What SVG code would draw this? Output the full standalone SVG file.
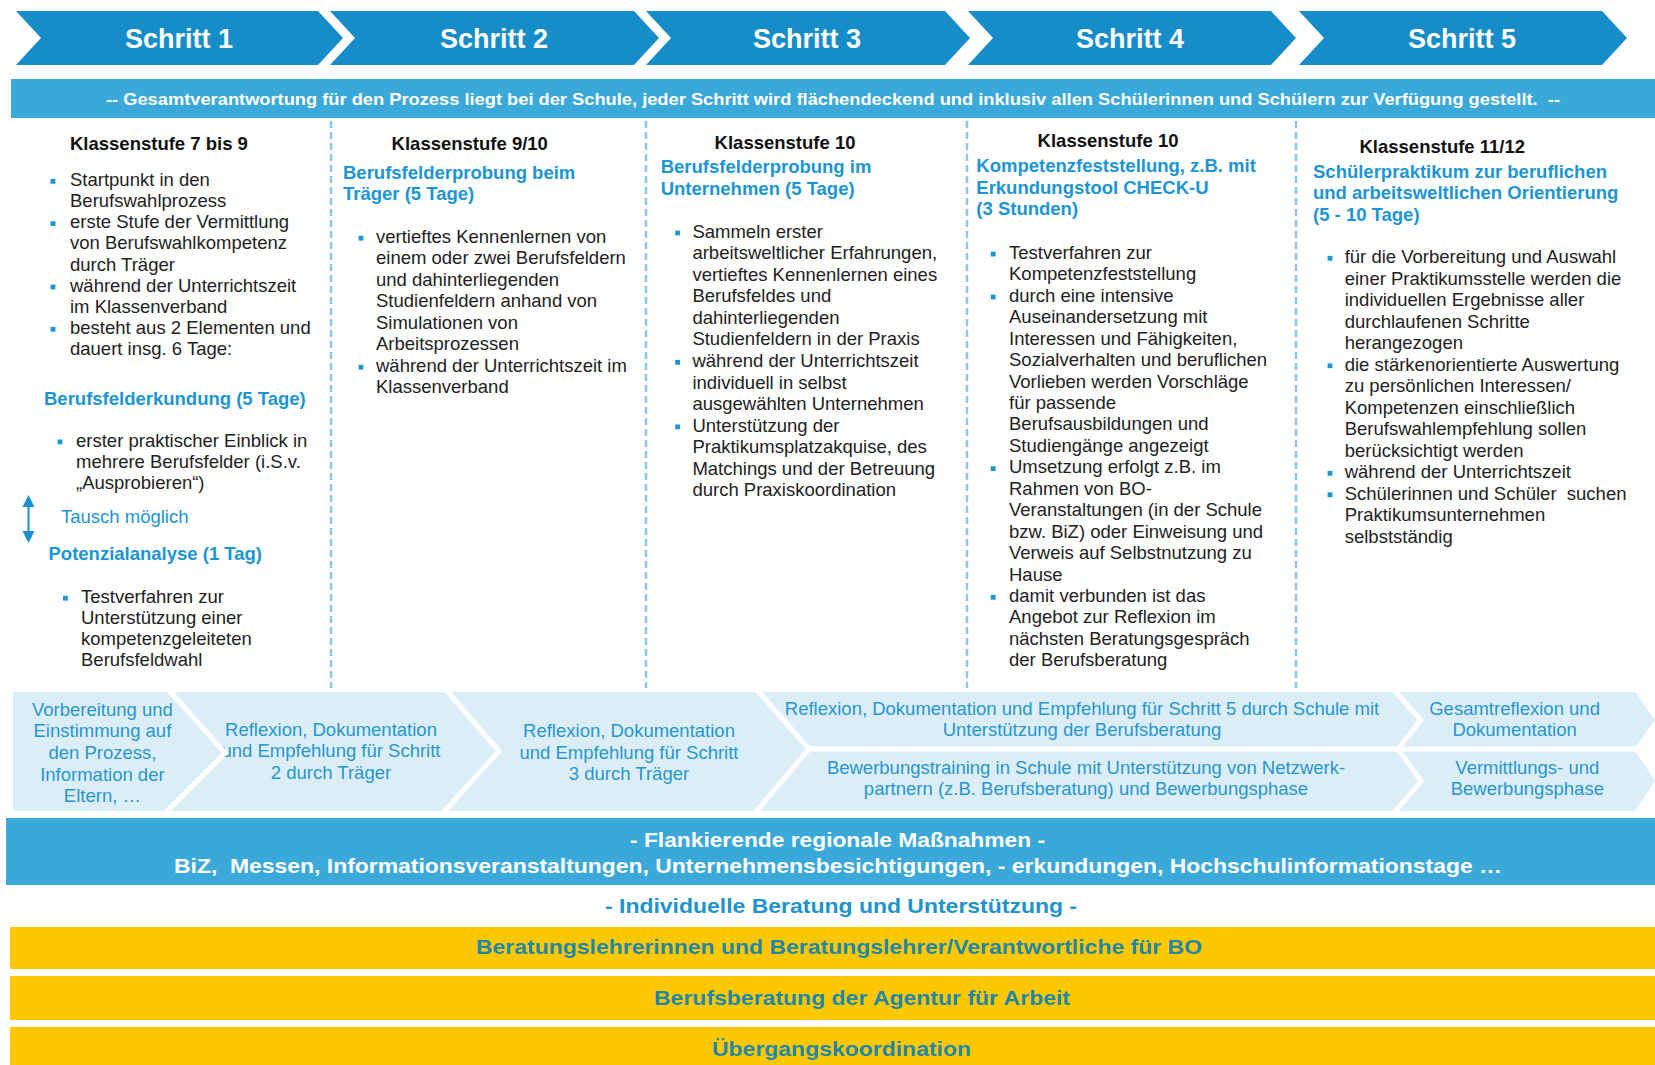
<svg xmlns="http://www.w3.org/2000/svg" xmlns:xlink="http://www.w3.org/1999/xlink" width="1655" height="1065" viewBox="0 0 1655 1065">
<style>
text{font-family:"Liberation Sans",Arial,Helvetica,sans-serif}
.pre{white-space:pre}
.b{font-size:18.5px;fill:#222}
.h{font-size:18.5px;font-weight:bold;fill:#111}
.hb{font-size:18.5px;font-weight:bold;fill:#1b95d3}
.tb{font-size:18.5px;fill:#1b95d3}
.m{font-size:18.5px;fill:#2796cf;text-anchor:middle}
.st{font-size:27px;font-weight:bold;fill:#fff;text-anchor:middle}
.chev{fill:#168dc8}
.band{fill:#3aa9d9}
.yel{fill:#fec800}
.wt{font-weight:bold;fill:#fff}
.yt{font-size:21px;font-weight:bold;fill:#1f87a8}
.div{stroke:#8cc8e6;stroke-width:2.5;stroke-dasharray:7 4;fill:none}
.sep{stroke:#fff;stroke-width:5;fill:none;stroke-linejoin:miter}
</style>
<defs>
<rect id="bu" width="4.8" height="4.8" fill="#1b95d3"/>
</defs>
<rect width="1655" height="1065" fill="#fff"/>

<g id="step1"><polygon class="chev" points="16,11 318,11 343,38 318,65 16,65 41,38"/><text class="st" x="179" y="47.5">Schritt 1</text></g>
<g id="step2"><polygon class="chev" points="330,11 634,11 659,38 634,65 330,65 355,38"/><text class="st" x="494" y="47.5">Schritt 2</text></g>
<g id="step3"><polygon class="chev" points="646,11 945,11 970,38 945,65 646,65 671,38"/><text class="st" x="807" y="47.5">Schritt 3</text></g>
<g id="step4"><polygon class="chev" points="968,11 1271,11 1296,38 1271,65 968,65 993,38"/><text class="st" x="1130" y="47.5">Schritt 4</text></g>
<g id="step5"><polygon class="chev" points="1299,11 1602,11 1627,38 1602,65 1299,65 1324,38"/><text class="st" x="1462" y="47.5">Schritt 5</text></g>

<g id="band-top"><rect class="band" x="11" y="79" width="1644" height="39"/>
<text class="wt pre" x="106" y="104.5" font-size="17" textLength="1454" lengthAdjust="spacingAndGlyphs">-- Gesamtverantwortung für den Prozess liegt bei der Schule, jeder Schritt wird flächendeckend und inklusiv allen Schülerinnen und Schülern zur Verfügung gestellt.  --</text></g>

<g id="dividers">
<line class="div" x1="331" y1="121" x2="331" y2="688"/>
<line class="div" x1="646" y1="121" x2="646" y2="688"/>
<line class="div" x1="967" y1="121" x2="967" y2="688"/>
<line class="div" x1="1296" y1="121" x2="1296" y2="688"/>
</g>

<g id="col1" transform="translate(0,1.5)">
<text class="h" x="70" y="148.5">Klassenstufe 7 bis 9</text>
<use xlink:href="#bu" x="50.6" y="177.4"/><use xlink:href="#bu" x="50.6" y="219.7"/><use xlink:href="#bu" x="50.6" y="283.1"/><use xlink:href="#bu" x="50.6" y="325.4"/>
<text class="b" x="70" y="184.5"><tspan x="70">Startpunkt in den</tspan><tspan x="70" dy="21.15">Berufswahlprozess</tspan><tspan x="70" dy="21.15">erste Stufe der Vermittlung</tspan><tspan x="70" dy="21.15">von Berufswahlkompetenz</tspan><tspan x="70" dy="21.15">durch Träger</tspan><tspan x="70" dy="21.15">während der Unterrichtszeit</tspan><tspan x="70" dy="21.15">im Klassenverband</tspan><tspan x="70" dy="21.15">besteht aus 2 Elementen und</tspan><tspan x="70" dy="21.15">dauert insg. 6 Tage:</tspan></text>
<text class="hb" x="44" y="403">Berufsfelderkundung (5 Tage)</text>
<use xlink:href="#bu" x="57.6" y="438"/>
<text class="b" x="76" y="445.1"><tspan x="76">erster praktischer Einblick in</tspan><tspan x="76" dy="21.2">mehrere Berufsfelder (i.S.v.</tspan><tspan x="76" dy="21.2">„Ausprobieren“)</tspan></text>
<text class="tb" x="61" y="521">Tausch möglich</text>
<text class="hb" x="48.5" y="558">Potenzialanalyse (1 Tag)</text>
<use xlink:href="#bu" x="63" y="594.3"/>
<text class="b" x="81" y="601.4"><tspan x="81">Testverfahren zur</tspan><tspan x="81" dy="21.1">Unterstützung einer</tspan><tspan x="81" dy="21.1">kompetenzgeleiteten</tspan><tspan x="81" dy="21.1">Berufsfeldwahl</tspan></text>
</g>

<g id="connectors">
<line x1="28.5" y1="500" x2="28.5" y2="537" stroke="#1b8fcf" stroke-width="2"/>
<polygon points="22.5,507 28.5,495 34.5,507" fill="#1b8fcf"/>
<polygon points="22.5,531 28.5,543 34.5,531" fill="#1b8fcf"/>
</g>

<g id="col2" transform="translate(0,1.5)">
<text class="h" x="391.6" y="148.5">Klassenstufe 9/10</text>
<text class="hb" x="343" y="177"><tspan x="343">Berufsfelderprobung beim</tspan><tspan x="343" dy="21.5">Träger (5 Tage)</tspan></text>
<use xlink:href="#bu" x="358.6" y="234.3"/><use xlink:href="#bu" x="358.6" y="363.3"/>
<text class="b" x="376" y="241.4"><tspan x="376">vertieftes Kennenlernen von</tspan><tspan x="376" dy="21.5">einem oder zwei Berufsfeldern</tspan><tspan x="376" dy="21.5">und dahinterliegenden</tspan><tspan x="376" dy="21.5">Studienfeldern anhand von</tspan><tspan x="376" dy="21.5">Simulationen von</tspan><tspan x="376" dy="21.5">Arbeitsprozessen</tspan><tspan x="376" dy="21.5">während der Unterrichtszeit im</tspan><tspan x="376" dy="21.5">Klassenverband</tspan></text>
</g>

<g id="col3" transform="translate(0,1.5)">
<text class="h" x="714.6" y="147.5">Klassenstufe 10</text>
<text class="hb" x="660.7" y="171.8"><tspan x="660.7">Berufsfelderprobung im</tspan><tspan x="660.7" dy="21.5">Unternehmen (5 Tage)</tspan></text>
<use xlink:href="#bu" x="675.2" y="229.1"/><use xlink:href="#bu" x="675.2" y="358.4"/><use xlink:href="#bu" x="675.2" y="423"/>
<text class="b" x="692.4" y="236.2"><tspan x="692.4">Sammeln erster</tspan><tspan x="692.4" dy="21.55">arbeitsweltlicher Erfahrungen,</tspan><tspan x="692.4" dy="21.55">vertieftes Kennenlernen eines</tspan><tspan x="692.4" dy="21.55">Berufsfeldes und</tspan><tspan x="692.4" dy="21.55">dahinterliegenden</tspan><tspan x="692.4" dy="21.55">Studienfeldern in der Praxis</tspan><tspan x="692.4" dy="21.55">während der Unterrichtszeit</tspan><tspan x="692.4" dy="21.55">individuell in selbst</tspan><tspan x="692.4" dy="21.55">ausgewählten Unternehmen</tspan><tspan x="692.4" dy="21.55">Unterstützung der</tspan><tspan x="692.4" dy="21.55">Praktikumsplatzakquise, des</tspan><tspan x="692.4" dy="21.55">Matchings und der Betreuung</tspan><tspan x="692.4" dy="21.55">durch Praxiskoordination</tspan></text>
</g>

<g id="col4" transform="translate(0,1.5)">
<text class="h" x="1037.6" y="145.4">Klassenstufe 10</text>
<text class="hb" x="976.3" y="170.7"><tspan x="976.3">Kompetenzfeststellung, z.B. mit</tspan><tspan x="976.3" dy="21.5">Erkundungstool CHECK-U</tspan><tspan x="976.3" dy="21.5">(3 Stunden)</tspan></text>
<use xlink:href="#bu" x="990.8" y="250.2"/><use xlink:href="#bu" x="990.8" y="293.1"/><use xlink:href="#bu" x="990.8" y="464.7"/><use xlink:href="#bu" x="990.8" y="593.4"/>
<text class="b" x="1009" y="257.3"><tspan x="1009">Testverfahren zur</tspan><tspan x="1009" dy="21.45">Kompetenzfeststellung</tspan><tspan x="1009" dy="21.45">durch eine intensive</tspan><tspan x="1009" dy="21.45">Auseinandersetzung mit</tspan><tspan x="1009" dy="21.45">Interessen und Fähigkeiten,</tspan><tspan x="1009" dy="21.45">Sozialverhalten und beruflichen</tspan><tspan x="1009" dy="21.45">Vorlieben werden Vorschläge</tspan><tspan x="1009" dy="21.45">für passende</tspan><tspan x="1009" dy="21.45">Berufsausbildungen und</tspan><tspan x="1009" dy="21.45">Studiengänge angezeigt</tspan><tspan x="1009" dy="21.45">Umsetzung erfolgt z.B. im</tspan><tspan x="1009" dy="21.45">Rahmen von BO-</tspan><tspan x="1009" dy="21.45">Veranstaltungen (in der Schule</tspan><tspan x="1009" dy="21.45">bzw. BiZ) oder Einweisung und</tspan><tspan x="1009" dy="21.45">Verweis auf Selbstnutzung zu</tspan><tspan x="1009" dy="21.45">Hause</tspan><tspan x="1009" dy="21.45">damit verbunden ist das</tspan><tspan x="1009" dy="21.45">Angebot zur Reflexion im</tspan><tspan x="1009" dy="21.45">nächsten Beratungsgespräch</tspan><tspan x="1009" dy="21.45">der Berufsberatung</tspan></text>
</g>

<g id="col5" transform="translate(0,1.5)">
<text class="h" x="1359.5" y="151.7">Klassenstufe 11/12</text>
<text class="hb" x="1313" y="176"><tspan x="1313">Schülerpraktikum zur beruflichen</tspan><tspan x="1313" dy="21.5">und arbeitsweltlichen Orientierung</tspan><tspan x="1313" dy="21.5">(5 - 10 Tage)</tspan></text>
<use xlink:href="#bu" x="1327.6" y="254.4"/><use xlink:href="#bu" x="1327.6" y="361.9"/><use xlink:href="#bu" x="1327.6" y="469.4"/><use xlink:href="#bu" x="1327.6" y="490.9"/>
<text class="b pre" x="1344.7" y="261.5"><tspan x="1344.7">für die Vorbereitung und Auswahl</tspan><tspan x="1344.7" dy="21.5">einer Praktikumsstelle werden die</tspan><tspan x="1344.7" dy="21.5">individuellen Ergebnisse aller</tspan><tspan x="1344.7" dy="21.5">durchlaufenen Schritte</tspan><tspan x="1344.7" dy="21.5">herangezogen</tspan><tspan x="1344.7" dy="21.5">die stärkenorientierte Auswertung</tspan><tspan x="1344.7" dy="21.5">zu persönlichen Interessen/</tspan><tspan x="1344.7" dy="21.5">Kompetenzen einschließlich</tspan><tspan x="1344.7" dy="21.5">Berufswahlempfehlung sollen</tspan><tspan x="1344.7" dy="21.5">berücksichtigt werden</tspan><tspan x="1344.7" dy="21.5">während der Unterrichtszeit</tspan><tspan x="1344.7" dy="21.5">Schülerinnen und Schüler  suchen</tspan><tspan x="1344.7" dy="21.5">Praktikumsunternehmen</tspan><tspan x="1344.7" dy="21.5">selbstständig</tspan></text>
</g>

<g id="phase-row">
<rect x="13" y="692" width="1642" height="119" fill="#dbeef8"/>
<g id="phase-texts" transform="translate(0,1.5)">
<text class="m" x="102.4" y="714.3"><tspan x="102.4">Vorbereitung und</tspan><tspan x="102.4" dy="21.6">Einstimmung auf</tspan><tspan x="102.4" dy="21.6">den Prozess,</tspan><tspan x="102.4" dy="21.6">Information der</tspan><tspan x="102.4" dy="21.6">Eltern, …</tspan></text>
<text class="m" x="331" y="734.3"><tspan x="331">Reflexion, Dokumentation</tspan><tspan x="331" dy="21.6">und Empfehlung für Schritt</tspan><tspan x="331" dy="21.6">2 durch Träger</tspan></text>
<text class="m" x="629" y="735.4"><tspan x="629">Reflexion, Dokumentation</tspan><tspan x="629" dy="21.6">und Empfehlung für Schritt</tspan><tspan x="629" dy="21.6">3 durch Träger</tspan></text>
<text class="m" x="1082" y="713.2"><tspan x="1082">Reflexion, Dokumentation und Empfehlung für Schritt 5 durch Schule mit</tspan><tspan x="1082" dy="21.2">Unterstützung der Berufsberatung</tspan></text>
<text class="m" x="1086" y="772.3"><tspan x="1086">Bewerbungstraining in Schule mit Unterstützung von Netzwerk-</tspan><tspan x="1086" dy="21.2">partnern (z.B. Berufsberatung) und Bewerbungsphase</tspan></text>
<text class="m" x="1514.6" y="713.2"><tspan x="1514.6">Gesamtreflexion und</tspan><tspan x="1514.6" dy="21.2">Dokumentation</tspan></text>
<text class="m" x="1527.3" y="772.3"><tspan x="1527.3">Vermittlungs- und</tspan><tspan x="1527.3" dy="21.2">Bewerbungsphase</tspan></text>
</g>
<polyline class="sep" points="169,690 225,753 165,813"/>
<polyline class="sep" points="446,690 499,751 443,813"/>
<polyline class="sep" points="757,690 809,749 755,813"/>
<line class="sep" x1="809" y1="749" x2="1655" y2="749"/>
<polyline class="sep" points="1394,690 1421,720 1398,749 1421,781 1394,813"/>
<polygon points="1634,690 1655,690 1655,720" fill="#fff"/>
<polygon points="1655,720 1634,749 1655,781" fill="#fff"/>
<polygon points="1655,781 1634,813 1655,813" fill="#fff"/>
</g>

<g id="band-flank">
<rect class="band" x="6" y="818" width="1649" height="67"/>
<text class="wt" x="630" y="846.5" font-size="21" textLength="415" lengthAdjust="spacingAndGlyphs">- Flankierende regionale Maßnahmen -</text>
<text class="wt pre" x="174" y="873" font-size="21" textLength="1328" lengthAdjust="spacingAndGlyphs">BiZ,  Messen, Informationsveranstaltungen, Unternehmensbesichtigungen, - erkundungen, Hochschulinformationstage …</text>
</g>

<g id="individuelle">
<text x="605" y="913" font-size="21" font-weight="bold" fill="#1e93cc" textLength="472" lengthAdjust="spacingAndGlyphs">- Individuelle Beratung und Unterstützung -</text>
</g>

<g id="band-beratungslehrer">
<rect class="yel" x="10" y="927" width="1645" height="42"/>
<text class="yt" x="476" y="954.3" textLength="726" lengthAdjust="spacingAndGlyphs">Beratungslehrerinnen und Beratungslehrer/Verantwortliche für BO</text>
</g>
<g id="band-berufsberatung">
<rect class="yel" x="10" y="976" width="1645" height="44"/>
<text class="yt" x="654" y="1005" textLength="416" lengthAdjust="spacingAndGlyphs">Berufsberatung der Agentur für Arbeit</text>
</g>
<g id="band-uebergang">
<rect class="yel" x="10" y="1027" width="1645" height="38"/>
<text class="yt" x="712" y="1055.7" textLength="259" lengthAdjust="spacingAndGlyphs">Übergangskoordination</text>
</g>
</svg>
